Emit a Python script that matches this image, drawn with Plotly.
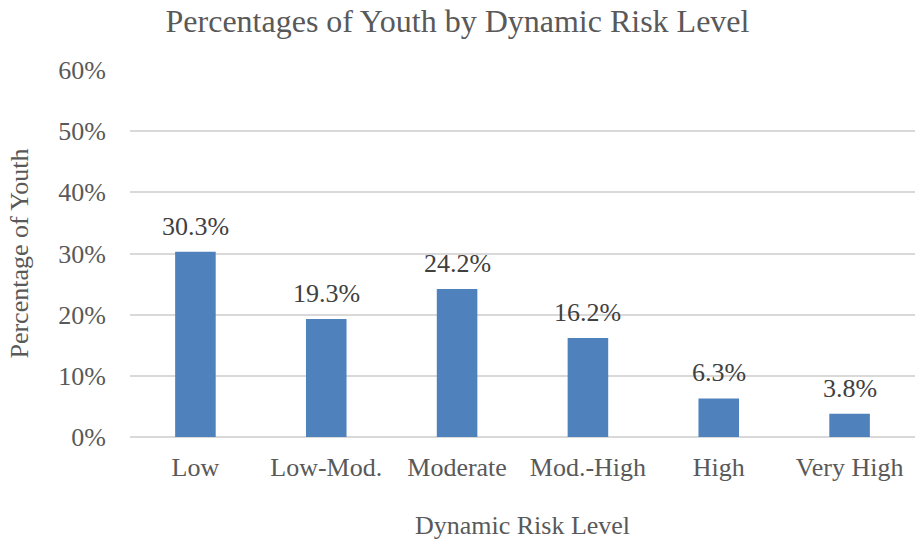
import plotly.graph_objects as go

categories = ["Low", "Low-Mod.", "Moderate", "Mod.-High", "High", "Very High"]
percentages = [30.3, 19.3, 24.2, 16.2, 6.3, 3.8]
y_ticks = [0, 10, 20, 30, 40, 50, 60]
y_tick_labels = [f"{v}%" for v in y_ticks]

FONT = "Liberation Serif"
TEXT = "#595959"
SIZE = 26

fig = go.Figure(
    go.Bar(
        x=categories,
        y=percentages,
        marker=dict(color="#4F81BD", line=dict(width=0)),
        width=0.31,
        hoverinfo="x+y",
    )
)

# value labels above each bar
for cat, val in zip(categories, percentages):
    fig.add_annotation(
        x=cat,
        y=val,
        text=f"{val:.1f}%",
        showarrow=False,
        yanchor="bottom",
        yshift=9,
        font=dict(family=FONT, size=SIZE, color="#404040"),
    )

fig.update_layout(
    width=915,
    height=543,
    margin=dict(l=130, r=0, t=70, b=106),
    plot_bgcolor="white",
    paper_bgcolor="white",
    showlegend=False,
    title=dict(
        text="Percentages of Youth by Dynamic Risk Level",
        font=dict(family=FONT, size=32, color=TEXT),
        x=0.5,
        xanchor="center",
        y=0.962,
        yanchor="middle",
    ),
    font=dict(family=FONT, color=TEXT),
)

fig.update_xaxes(
    tickfont=dict(family=FONT, size=SIZE, color=TEXT),
    title=dict(text="Dynamic Risk Level", font=dict(family=FONT, size=SIZE, color=TEXT), standoff=34),
    showgrid=False,
    showline=False,
    ticks="",
    ticklabelstandoff=12,
)

fig.update_yaxes(
    range=[0, 60],
    tickvals=y_ticks,
    ticktext=y_tick_labels,
    tickfont=dict(family=FONT, size=SIZE, color=TEXT),
    title=dict(text="Percentage of Youth", font=dict(family=FONT, size=SIZE, color=TEXT), standoff=22),
    showgrid=True,
    gridcolor="#D9D9D9",
    gridwidth=1.5,
    zeroline=True,
    zerolinecolor="#D9D9D9",
    zerolinewidth=2,
    showline=False,
    ticks="",
    ticklabelstandoff=23,
)

fig.write_html("out.html")
